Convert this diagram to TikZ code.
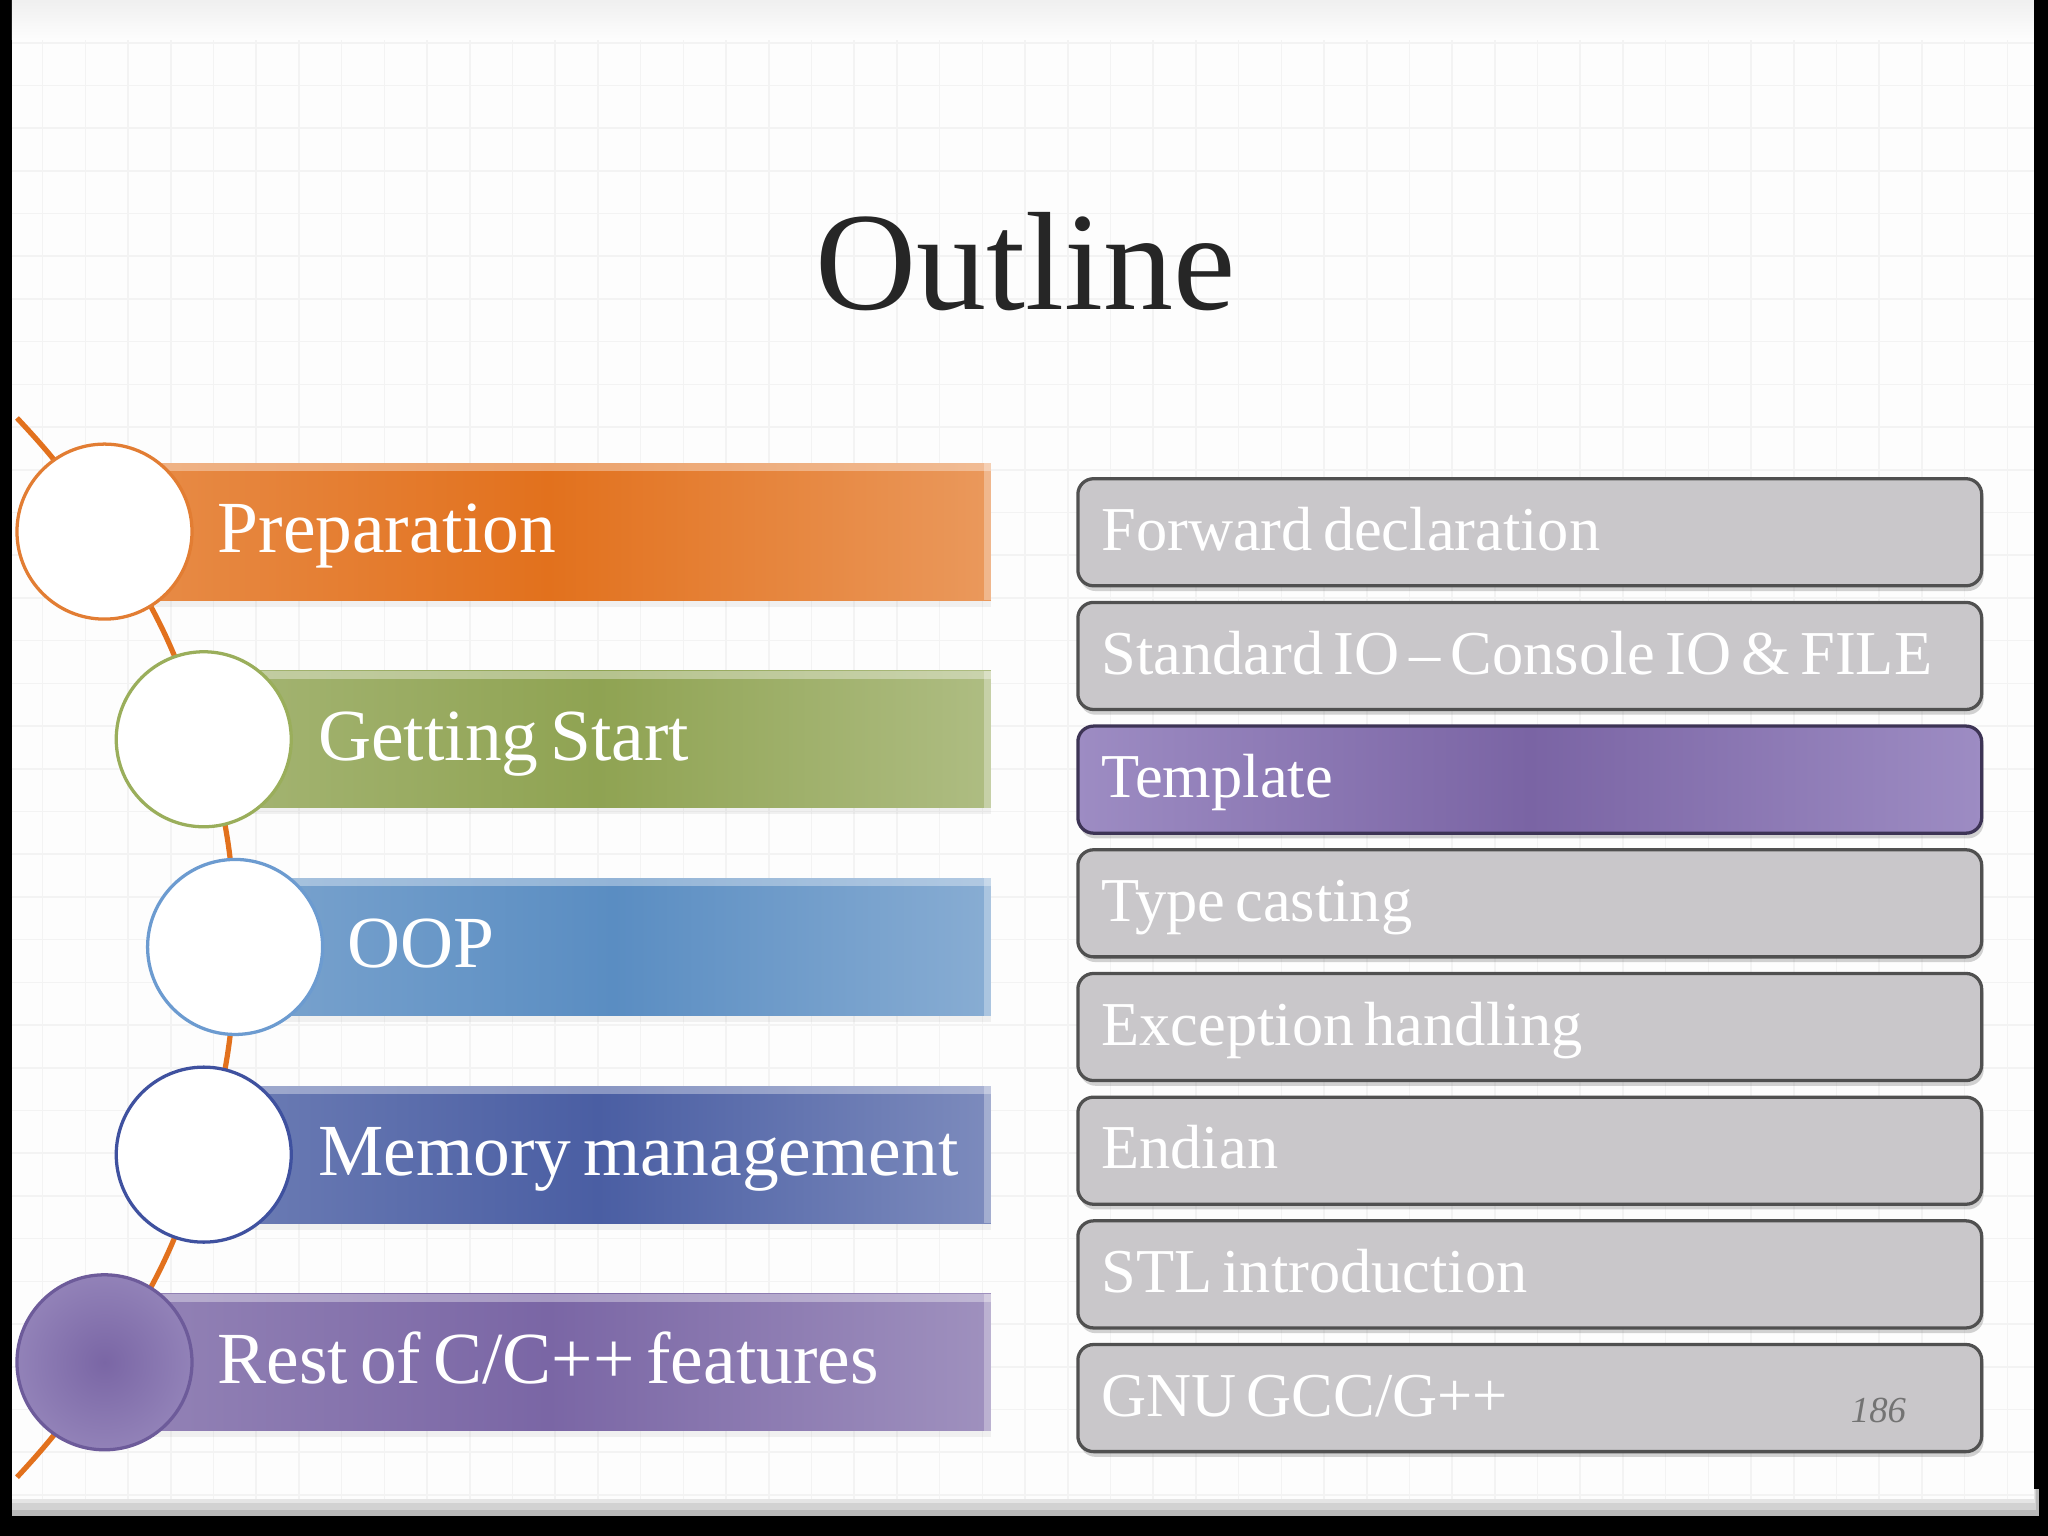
\documentclass[tikz,border=0pt]{standalone}
\usepackage{fontspec}
\setmainfont{Liberation Serif}[WordSpace=0.65]
\usepackage{tikz}
\usetikzlibrary{positioning,calc,shadows,shapes}

\definecolor{slidewhite}{HTML}{FDFDFD}
\definecolor{gridgray}{HTML}{F3F3F3}
\definecolor{titlegray}{HTML}{262626}
\definecolor{prepcol}{HTML}{E2711D}
\definecolor{prepedge}{HTML}{E27D33}
\definecolor{startcol}{HTML}{8FA352}
\definecolor{startedge}{HTML}{9AAE5B}
\definecolor{oopcol}{HTML}{5A8DC2}
\definecolor{oopedge}{HTML}{6C9BD0}
\definecolor{memcol}{HTML}{4A5EA3}
\definecolor{memedge}{HTML}{3F519F}
\definecolor{restcol}{HTML}{7A66A5}
\definecolor{restlight}{HTML}{9282B8}
\definecolor{restedge}{HTML}{6D5B9A}
\definecolor{boxgray}{HTML}{C9C7CA}
\definecolor{boxedge}{HTML}{505050}
\definecolor{tmplcol}{HTML}{7A64A4}
\definecolor{tmpllight}{HTML}{9D8CC3}
\definecolor{tmpledge}{HTML}{3D3455}

\pgfdeclarelayer{back}
\pgfdeclarelayer{spine}
\pgfsetlayers{back,spine,main}

\begin{document}
\begin{tikzpicture}[
      x=0.1mm,y=-0.1mm,node distance = 1.02mm,
      titletext/.style = {anchor=base,text=titlegray,font=\fontsize{30.5}{36}\selectfont,inner sep=0},
      ball/.style = {circle,minimum size=13.4mm,inner sep=0,fill=white,draw=#1,line width=0.25mm},
      bar/.style = {rectangle,minimum height=10.5mm,inner sep=0,anchor=west,
        left color=#1!80!white,right color=#1!72!white,middle color=#1,
        drop shadow={shadow xshift=0mm,shadow yshift=-0.5mm,opacity=0.1},
        path picture={
          \fill[white,opacity=0.35] (path picture bounding box.north west) rectangle ([yshift=-0.6mm]path picture bounding box.north east);
          \fill[white,opacity=0.3] ([xshift=-0.5mm]path picture bounding box.south east) rectangle (path picture bounding box.north east);}},
      bartext/.style = {anchor=base west,text=white,font=\fontsize{16}{19}\selectfont,inner sep=0},
      topic/.style = {rectangle,rounded corners=1.2mm,draw=boxedge,line width=0.25mm,fill=boxgray,
        text width=65.6mm,align=left,inner xsep=1.8mm,inner ysep=0,minimum height=8.2mm,outer sep=0.125mm,
        text height=3.6mm,text depth=0.8mm,text=white,font=\fontsize{13.6}{16}\selectfont,
        execute at begin node={\spaceskip=\fontdimen2\font\relax},
        drop shadow={shadow xshift=0.15mm,shadow yshift=-0.4mm,opacity=0.35}},
      pagenum/.style = {anchor=base east,text=black!55,font=\itshape\fontsize{8}{10}\selectfont,inner sep=0},
      timeline/.style = {draw=prepcol,line width=0.4mm}
      ]
      \useasboundingbox (0,0) rectangle (1568,1176);

      % slide page
      \begin{pgfonlayer}{back}
        \fill[black] (0,0) rectangle (1568,1176);
        \fill[gray!55] (9,1140) rectangle (1561,1161);
        \fill[gray!35] (9,1140) rectangle (1559,1156);
        \fill[gray!20] (9,1140) rectangle (1558,1151);
        \fill[slidewhite] (9,0) rectangle (1557,1148);
        \draw[gridgray,line width=0.12mm] (9,1148) grid[step=3.27mm] (1557,0);
        \shade[top color=gray!12,bottom color=slidewhite] (9,0) rectangle (1557,30);
      \end{pgfonlayer}

      \node (title)[titletext] at (785,237) {Outline};

      % left column
      \node (preparation)[bar=prepcol,minimum width=67.8mm] at (80,407) {};
      \node (gettingstart)[bar=startcol,minimum width=60.2mm] at (156,566) {};
      \node (oop)[bar=oopcol,minimum width=57.8mm] at (180,725) {};
      \node (memory)[bar=memcol,minimum width=60.2mm] at (156,884) {};
      \node (rest)[bar=restcol,minimum width=67.8mm] at (80,1043) {};

      \node (c1)[ball=prepedge] at (preparation.west) {};
      \node (c2)[ball=startedge] at (gettingstart.west) {};
      \node (c3)[ball=oopedge] at (oop.west) {};
      \node (c4)[ball=memedge] at (memory.west) {};
      \node (c5)[ball=restedge,inner color=restcol,outer color=restlight] at (rest.west) {};

      \node (tprep)[bartext] at ($(preparation.west)+(86,16)$) {Preparation};
      \node (tstart)[bartext] at ($(gettingstart.west)+(87,16)$) {Getting Start};
      \node (toop)[bartext] at ($(oop.west)+(85,16)$) {OOP};
      \node (tmem)[bartext] at ($(memory.west)+(87,16)$) {Memory management};
      \node (trest)[bartext] at ($(rest.west)+(86,16)$) {Rest of C/C++ features};

      \coordinate (spinetop) at (13,320);
      \coordinate (spinebot) at (13,1131);
      \begin{pgfonlayer}{spine}
        \draw[timeline] (spinetop) to[bend left=5.6] (c1.center) to[bend left=8.7] (c2.center)
          to[bend left=8] (c3.center) to[bend left=8] (c4.center)
          to[bend left=8.7] (c5.center) to[bend left=5.6] (spinebot);
      \end{pgfonlayer}

      % right column
      \node (forward)[topic,anchor=west] at (824,407.5) {Forward declaration};
      \node (stdio)[topic,below=of forward] {Standard IO – Console IO \& FILE};
      \node (template)[topic,below=of stdio,left color=tmpllight,right color=tmpllight,middle color=tmplcol,draw=tmpledge] {Template};
      \node (casting)[topic,below=of template] {Type casting};
      \node (exception)[topic,below=of casting] {Exception handling};
      \node (endian)[topic,below=of exception] {Endian};
      \node (stl)[topic,below=of endian] {STL introduction};
      \node (gnu)[topic,below=of stl] {GNU GCC/G++};

      \node (page)[pagenum] at (1460,1089) {186};
    \end{tikzpicture}
\end{document}
